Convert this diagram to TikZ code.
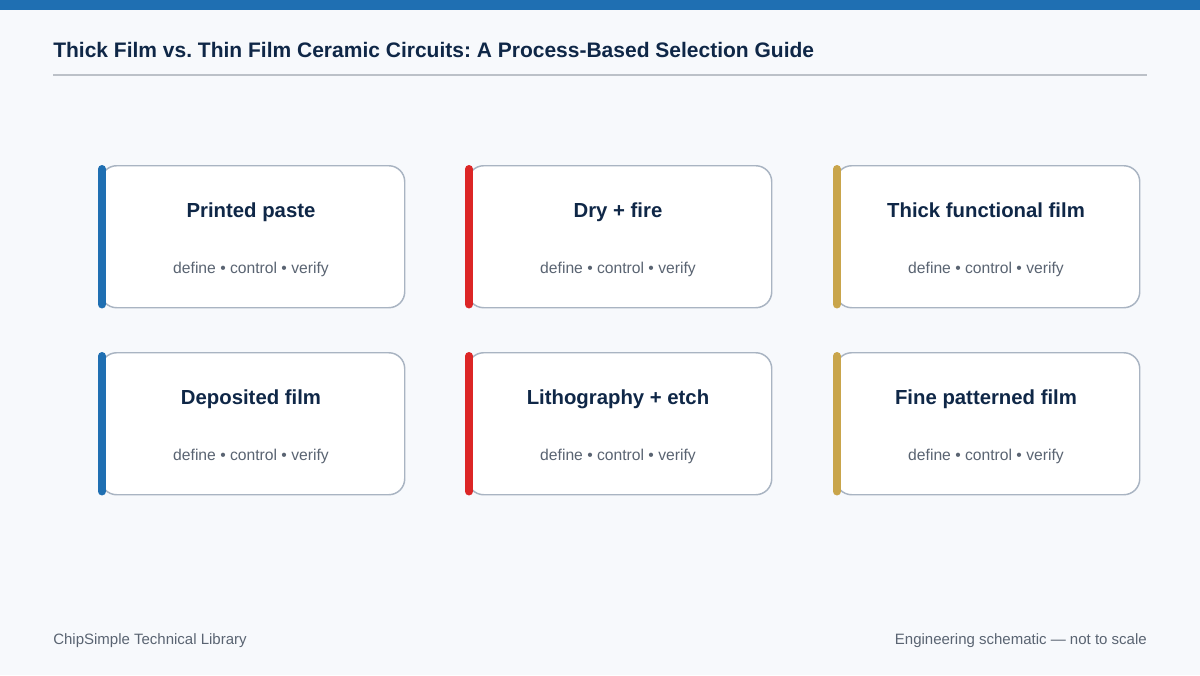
\documentclass[tikz,border=0pt]{standalone}
\usepackage{fontspec}
\setmainfont{Liberation Sans}
\frenchspacing
\definecolor{bg}{HTML}{F7F9FC}
\definecolor{topbar}{HTML}{1F6FB2}
\definecolor{navy}{HTML}{0F2747}
\definecolor{rulegray}{HTML}{BCC1C8}
\definecolor{cardborder}{HTML}{A9B4C2}
\definecolor{subgray}{HTML}{5A6472}
\definecolor{accblue}{HTML}{1F6FB2}
\definecolor{accred}{HTML}{DC2626}
\definecolor{accgold}{HTML}{C9A54B}
\tikzset{
  card/.style={draw=cardborder, line width=1.1pt, fill=white, rounded corners=12pt},
  accent/.style={line width=6pt, line cap=round},
  cardtitle/.style={font=\bfseries\fontsize{15.25}{18}\selectfont, text=navy, anchor=base},
  cardsub/.style={font=\fontsize{11.75}{14}\selectfont, text=subgray, anchor=base},
  foot/.style={font=\fontsize{11.25}{14}\selectfont, text=subgray, anchor=base},
}
\begin{document}
\begin{tikzpicture}[x=0.75pt,y=-0.75pt]
\useasboundingbox (0,0) rectangle (1200,675);
\fill[bg] (0,0) rectangle (1200,675);
\fill[topbar] (0,0) rectangle (1200,10);
\node[font=\bfseries\fontsize{15.75}{18}\selectfont, text=navy, anchor=base west, inner sep=0] (title) at (53,57) {Thick Film vs. Thin Film Ceramic Circuits: A Process-Based Selection Guide};
\draw[rulegray, line width=1.1pt] (53,75) -- (1147,75);
% cards
\foreach \x/\y/\c/\t/\n in {
  100/165/accblue/Printed paste/c1,
  467/165/accred/Dry + fire/c2,
  835/165/accgold/Thick functional film/c3,
  100/352/accblue/Deposited film/c4,
  467/352/accred/Lithography + etch/c5,
  835/352/accgold/Fine patterned film/c6}{
  \node[card, minimum width=228pt, minimum height=106.5pt, anchor=north west, inner sep=0] (\n) at (\x,\y) {};
  \draw[accent, \c] ([xshift=1.5pt,yshift=-3pt]\n.north west) -- ([xshift=1.5pt,yshift=3pt]\n.south west);
  \node[cardtitle] (\n t) at (\x+151,\y+52) {\t};
  \node[cardsub] (\n s) at (\x+151,\y+108) {define • control • verify};
}
\node[foot, anchor=base west, inner sep=0] (fl) at (53,644) {ChipSimple Technical Library};
\node[foot, anchor=base east, inner sep=0] (fr) at (1147,644) {Engineering schematic — not to scale};
\end{tikzpicture}
\end{document}
